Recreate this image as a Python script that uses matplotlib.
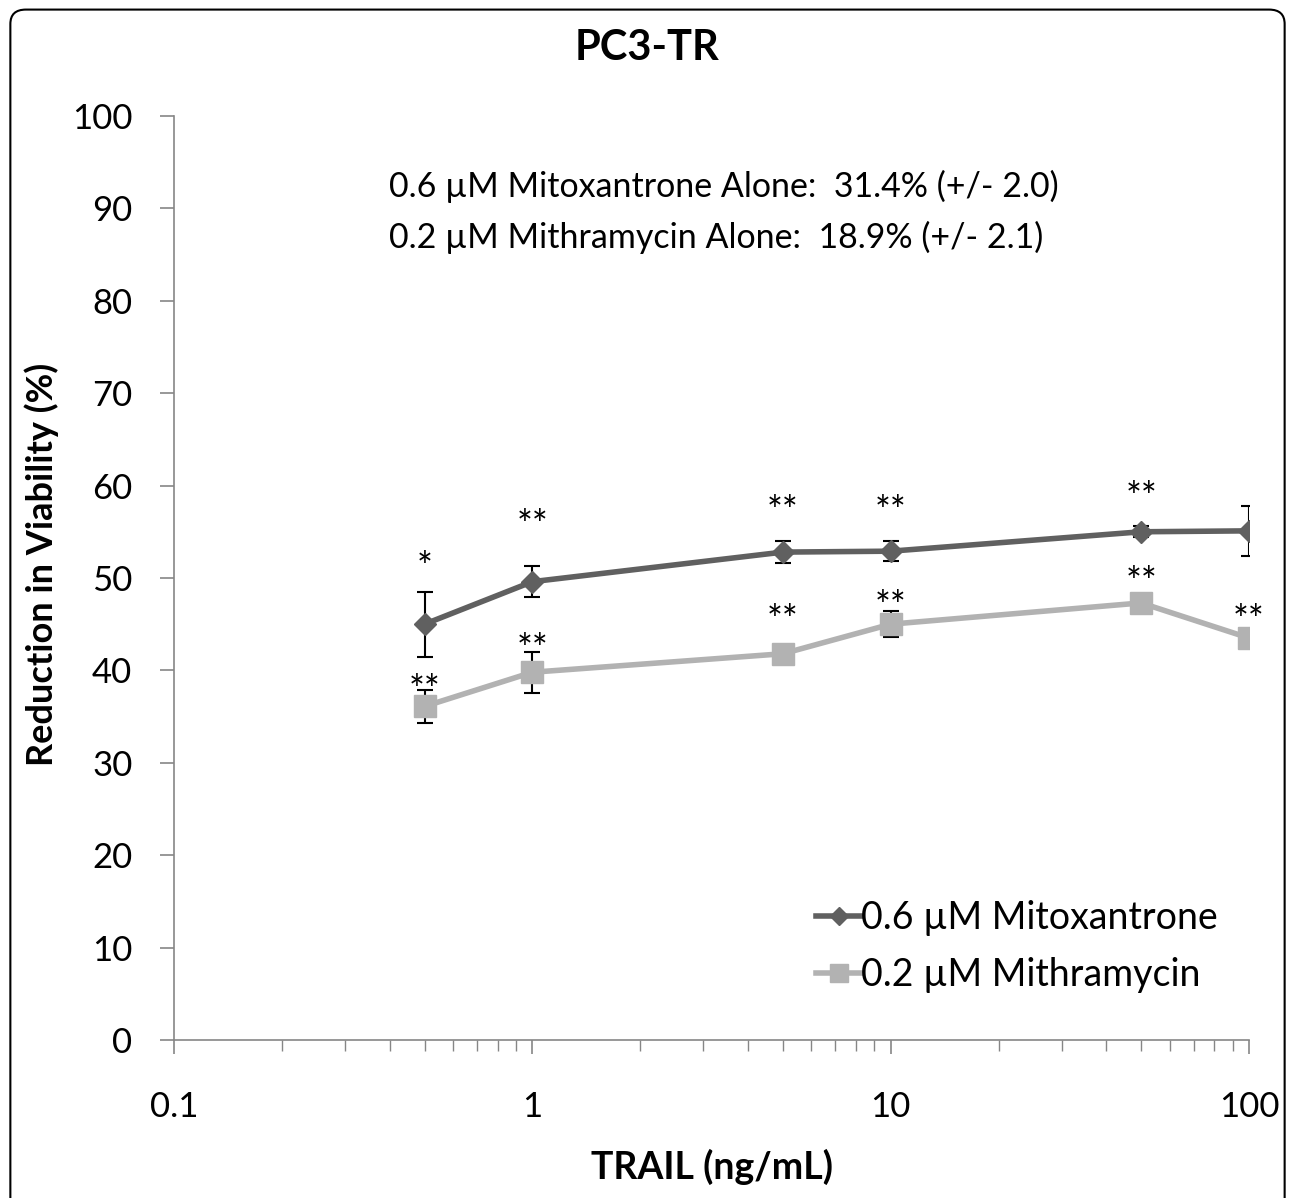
import numpy as np
import matplotlib

matplotlib.use('Agg')
import matplotlib.pyplot as plt
from matplotlib.patches import FancyBboxPatch

plt.rcParams['font.family'] = ['Lato', 'DejaVu Sans']

trail = [0.5, 1, 5, 10, 50, 100]

mitox = [45.0, 49.6, 52.8, 52.9, 55.0, 55.1]
mitox_err = [3.5, 1.7, 1.2, 1.1, 0.6, 2.7]
mitox_stars = ['*', '**', '**', '**', '**', '']
mitox_star_y = [51.9, 56.4, 57.9, 57.9, 59.4, 0]

mithra = [36.1, 39.8, 41.8, 45.0, 47.3, 43.5]
mithra_err = [1.8, 2.2, 0.6, 1.4, 0.6, 0.6]
mithra_stars = ['**', '**', '**', '**', '**', '**']
mithra_star_y = [38.6, 43.0, 46.1, 47.6, 50.3, 46.1]

label_mitox = '0.6 µM Mitoxantrone'
label_mithra = '0.2 µM Mithramycin'
alone_lines = ['0.6 µM Mitoxantrone Alone:  31.4% (+/- 2.0)',
               '0.2 µM Mithramycin Alone:  18.9% (+/- 2.1)']

dark = '#606060'
light = '#b2b2b2'
axis_grey = '#868686'

fig = plt.figure(figsize=(12.95, 11.98), dpi=100)
ax = fig.add_axes([0.1344, 0.1319, 0.8301, 0.7713])

# error bars under the markers
ax.errorbar(trail, mitox, yerr=mitox_err, fmt='none', ecolor='black',
            elinewidth=1.5, capsize=6, capthick=1.5, zorder=2)
ax.errorbar(trail, mithra, yerr=mithra_err, fmt='none', ecolor='black',
            elinewidth=1.5, capsize=6, capthick=1.5, zorder=2)

ax.plot(trail, mitox, color=dark, lw=4, marker='D', ms=11,
        label=label_mitox, zorder=4)
ax.plot(trail, mithra, color=light, lw=4, marker='s', ms=16,
        label=label_mithra, zorder=3)

# significance stars (asterisk glyph sits high, so nudge it down a bit)
for stars, ys in [(mitox_stars, mitox_star_y), (mithra_stars, mithra_star_y)]:
    for x, s, yy in zip(trail, stars, ys):
        if s:
            ax.annotate(s, (x, yy), xytext=(0, -6), textcoords='offset points',
                        ha='center', va='center', fontsize=27, zorder=5)

ax.set_xscale('log')
ax.set_xlim(0.1, 100)
ax.set_ylim(0, 100)
ax.set_yticks(np.arange(0, 101, 10))
ax.set_xticks([0.1, 1, 10, 100])
ax.set_xticklabels(['0.1', '1', '10', '100'])

for side in ['top', 'right']:
    ax.spines[side].set_visible(False)
for side in ['left', 'bottom']:
    ax.spines[side].set_color(axis_grey)
    ax.spines[side].set_linewidth(1.2)

ax.tick_params(axis='y', which='major', length=10, width=1.2, color=axis_grey,
               labelsize=25, pad=20)
ax.tick_params(axis='x', which='major', length=10, width=1.2, color=axis_grey,
               labelsize=25, pad=27)
ax.tick_params(axis='x', which='minor', length=8, width=1.0, color=axis_grey)

ax.set_xlabel('TRAIL (ng/mL)', fontsize=27, fontweight='bold', labelpad=18)
ax.set_ylabel('Reduction in Viability (%)', fontsize=26, fontweight='bold')
ax.yaxis.set_label_coords(-0.107, 0.515)

ax.text(0.2, 0.924, alone_lines[0], transform=ax.transAxes, fontsize=24.5, va='center')
ax.text(0.2, 0.868, alone_lines[1], transform=ax.transAxes, fontsize=24.5, va='center')

ax.legend(loc='lower right', bbox_to_anchor=(0.985, 0.035), frameon=False,
          fontsize=27, handlelength=1.2, handletextpad=0.0, labelspacing=0.55,
          borderaxespad=0.0, markerscale=0.85)

fig.text(0.5, 0.96, 'PC3-TR', ha='center', va='center', fontsize=30, fontweight='bold')

border = FancyBboxPatch((0.008, -0.05), 0.984, 1.042, transform=fig.transFigure,
                        boxstyle='round,pad=0,rounding_size=0.012',
                        fill=False, edgecolor='black', lw=1.5, clip_on=False)
fig.patches.append(border)

fig.savefig('out.png', dpi=100)
plt.close(fig)
